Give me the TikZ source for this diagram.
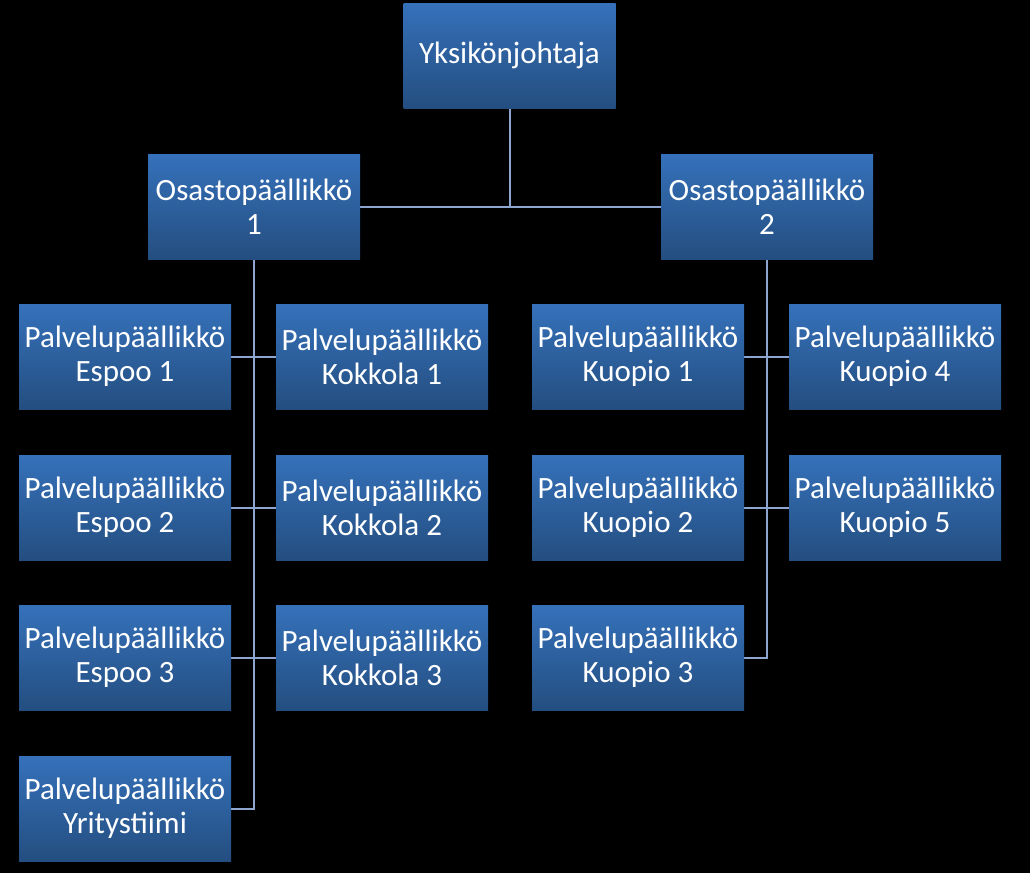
\documentclass[tikz,border=0pt]{standalone}
\usepackage{fontspec}
\setmainfont{Carlito}
\begin{document}
\begin{tikzpicture}[x=1pt,y=-1pt]
\definecolor{boxtop}{RGB}{53,113,186}
\definecolor{boxbot}{RGB}{36,78,128}
\definecolor{linec}{RGB}{142,166,207}
\tikzset{
  box/.style={rectangle, minimum width=212pt, minimum height=105pt, inner sep=0pt,
    top color=boxtop, bottom color=boxbot, text=white, align=center,
    font=\fontsize{31}{34}\selectfont},
  conn/.style={draw=linec, line width=2pt}
}
\fill[black] (0,0) rectangle (1030,873);
\useasboundingbox (0,0) rectangle (1030,873);
% connectors
\coordinate (tb) at (509.5,108);
\coordinate (oj) at (509.5,206.5);
\coordinate (s1) at (254,259);
\coordinate (s1e) at (254,808.5);
\coordinate (s2) at (767,259);
\coordinate (s2e) at (767,657.5);
\draw[conn] (tb) -- (oj);
\draw[conn] (360,206.5) -- (661,206.5);
\draw[conn] (s1) -- (s1e) -- (231,808.5);
\draw[conn] (231,356.5) -- (276,356.5);
\draw[conn] (231,507.5) -- (276,507.5);
\draw[conn] (231,657.5) -- (276,657.5);
\draw[conn] (s2) -- (s2e) -- (744,657.5);
\draw[conn] (744,356.5) -- (789,356.5);
\draw[conn] (744,507.5) -- (789,507.5);
% nodes
\node[box] (top) at (509.5,55.5) {Yksikönjohtaja};
\node[box] (o1) at (254,206.5) {Osastopäällikkö\\1};
\node[box] (o2) at (767,206.5) {Osastopäällikkö\\2};
\node[box] (e1) at (125,356.5) {Palvelupäällikkö\\Espoo 1};
\node[box] (e2) at (125,507.5) {Palvelupäällikkö\\Espoo 2};
\node[box] (e3) at (125,657.5) {Palvelupäällikkö\\Espoo 3};
\node[box] (yt) at (125,808.5) {Palvelupäällikkö\\Yritystiimi};
\node[box] (k1) at (382,356.5) {Palvelupäällikkö\\Kokkola 1};
\node[box] (k2) at (382,507.5) {Palvelupäällikkö\\Kokkola 2};
\node[box] (k3) at (382,657.5) {Palvelupäällikkö\\Kokkola 3};
\node[box] (q1) at (638,356.5) {Palvelupäällikkö\\Kuopio 1};
\node[box] (q2) at (638,507.5) {Palvelupäällikkö\\Kuopio 2};
\node[box] (q3) at (638,657.5) {Palvelupäällikkö\\Kuopio 3};
\node[box] (q4) at (895,356.5) {Palvelupäällikkö\\Kuopio 4};
\node[box] (q5) at (895,507.5) {Palvelupäällikkö\\Kuopio 5};
\end{tikzpicture}
\end{document}
